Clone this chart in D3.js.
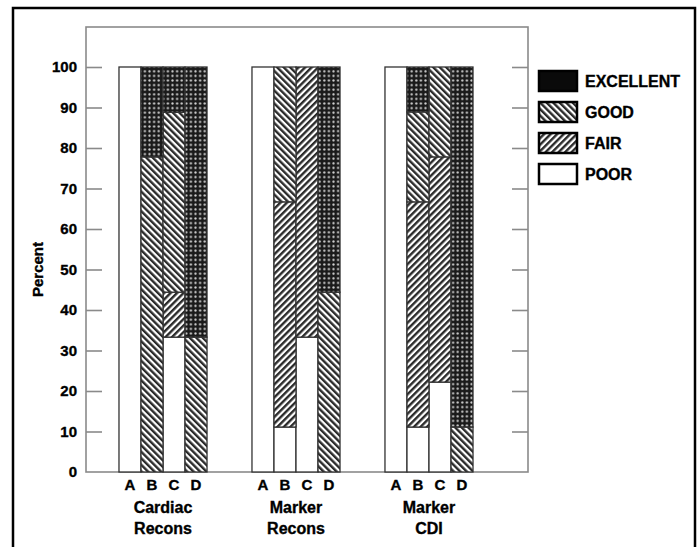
<!DOCTYPE html>
<html>
<head>
<meta charset="utf-8">
<script src="https://cdn.jsdelivr.net/npm/d3@7/dist/d3.min.js"></script>
<style>
  html, body { margin: 0; padding: 0; background: #fff; }
  svg { display: block; }
  text { font-family: "Liberation Sans", Arial, Helvetica, sans-serif; font-weight: bold; fill: #000; stroke: #000; stroke-width: 0.35px; }
</style>
</head>
<body>
<svg id="chart" width="700" height="547"></svg>
<script>
// ---- data ----
const groups = ["Cardiac Recons", "Marker Recons", "Marker CDI"];
const groupLines = [["Cardiac", "Recons"], ["Marker", "Recons"], ["Marker", "CDI"]];
const subcats = ["A", "B", "C", "D"];
// values per group, per subcategory A..D (percent)
const poor      = [100, 0, 33.3, 0,    100, 11.1, 33.3, 0,    100, 11.1, 22.2, 0];
const fair      = [0, 0, 11.1, 0,      0, 55.6, 66.7, 0,      0, 55.6, 55.6, 0];
const good      = [0, 77.8, 44.4, 33.3, 0, 33.3, 0, 44.4,     0, 22.2, 22.2, 11.1];
const excellent = [0, 22.2, 11.2, 66.7, 0, 0, 0, 55.6,        0, 11.1, 0, 88.9];
const seriesKeys = ["poor", "fair", "good", "excellent"];
const legendKeys = ["excellent", "good", "fair", "poor"];
const legendLabels = ["EXCELLENT", "GOOD", "FAIR", "POOR"];
const yTicks = [0, 10, 20, 30, 40, 50, 60, 70, 80, 90, 100];
const yTitle = "Percent";

const rows = [];
groups.forEach((g, gi) => subcats.forEach((s, si) => {
  const i = gi * subcats.length + si;
  rows.push({ group: g, sub: s, poor: poor[i], fair: fair[i], good: good[i], excellent: excellent[i] });
}));

const svg = d3.select("#chart");

// ---- patterns ----
const defs = svg.append("defs");
const pExc = defs.append("pattern").attr("id", "p-excellent")
  .attr("patternUnits", "userSpaceOnUse").attr("width", 4.6).attr("height", 4.6);
pExc.append("rect").attr("width", 4.6).attr("height", 4.6).attr("fill", "#1a1a1a");
pExc.append("circle").attr("cx", 2.3).attr("cy", 2.3).attr("r", 1.15).attr("fill", "#d0d0d0");

function hatch(id, angle) {
  const p = defs.append("pattern").attr("id", id)
    .attr("patternUnits", "userSpaceOnUse").attr("width", 4.6).attr("height", 10)
    .attr("patternTransform", `rotate(${angle})`);
  p.append("rect").attr("width", 4.6).attr("height", 10).attr("fill", "#fff");
  p.append("rect").attr("x", 0).attr("width", 2.4).attr("height", 10).attr("fill", "#2a2a2a");
}
hatch("p-good", -45);
hatch("p-fair", 45);
const fillFor = { poor: "#ffffff", fair: "url(#p-fair)", good: "url(#p-good)", excellent: "url(#p-excellent)" };

// ---- outer frame ----
svg.append("rect").attr("x", 13).attr("y", 8).attr("width", 682).attr("height", 560)
  .attr("fill", "none").attr("stroke", "#000").attr("stroke-width", 2.5);

// ---- scales ----
const plotL = 86, plotR = 528, plotT = 27, plotB = 472;
const y = d3.scaleLinear().domain([0, 100]).range([plotB, 67]);
const xg = d3.scaleBand().domain(groups).range([plotL, 506]).paddingInner(0.338).paddingOuter(0.248);
const xs = d3.scaleBand().domain(subcats).range([0, xg.bandwidth()]);

// ---- plot frame ----
svg.append("rect").attr("x", plotL).attr("y", plotT).attr("width", plotR - plotL).attr("height", plotB - plotT)
  .attr("fill", "none").attr("stroke", "#8a8a8a").attr("stroke-width", 1.6);

// ---- axes ----
const yl = svg.append("g").attr("transform", `translate(${plotL},0)`)
  .call(d3.axisLeft(y).tickValues(yTicks).tickSize(-16).tickPadding(9));
yl.select(".domain").remove();
yl.selectAll(".tick line").attr("stroke", "#8a8a8a").attr("stroke-width", 1.6)
  .filter(d => d === 0).remove();
yl.selectAll(".tick text").style("font-size", "15px").style("font-weight", "bold")
  .style("font-family", "'Liberation Sans', Arial, sans-serif").attr("fill", "#000");

const yr = svg.append("g").attr("transform", `translate(${plotR},0)`)
  .call(d3.axisRight(y).tickValues(yTicks).tickSize(-16).tickFormat(""));
yr.select(".domain").remove();
yr.selectAll(".tick line").attr("stroke", "#8a8a8a").attr("stroke-width", 1.6)
  .filter(d => d === 0).remove();

svg.append("text").attr("transform", `translate(43,${(67 + plotB) / 2}) rotate(-90)`)
  .attr("text-anchor", "middle").style("font-size", "15px").text(yTitle);

// ---- bars ----
const stack = d3.stack().keys(seriesKeys)(rows);
const gBars = svg.append("g");
stack.forEach(layer => {
  gBars.selectAll(null).data(layer.filter(d => d[1] - d[0] > 0)).join("rect")
    .attr("x", d => xg(d.data.group) + xs(d.data.sub))
    .attr("width", xs.bandwidth())
    .attr("y", d => y(d[1]))
    .attr("height", d => y(d[0]) - y(d[1]))
    .attr("fill", fillFor[layer.key])
    .attr("stroke", "#333").attr("stroke-width", 1.3);
});

// ---- x labels ----
const gx = svg.append("g");
groups.forEach((g, gi) => {
  subcats.forEach(s => {
    gx.append("text").attr("x", xg(g) + xs(s) + xs.bandwidth() / 2).attr("y", 490)
      .attr("text-anchor", "middle").style("font-size", "15px").text(s);
  });
  groupLines[gi].forEach((line, li) => {
    gx.append("text").attr("x", xg(g) + xg.bandwidth() / 2).attr("y", 513 + li * 21)
      .attr("text-anchor", "middle").style("font-size", "16px").text(line);
  });
});

// ---- legend ----
const lg = svg.append("g");
legendKeys.forEach((k, i) => {
  const yy = 71 + i * 31;
  lg.append("rect").attr("x", 539).attr("y", yy).attr("width", 38).attr("height", 20)
    .attr("fill", k === "excellent" ? "#0a0a0a" : fillFor[k]).attr("stroke", "#000").attr("stroke-width", 2.5);
  lg.append("text").attr("x", 585).attr("y", yy + 16).style("font-size", "16px").text(legendLabels[i]);
});
</script>
</body>
</html>
